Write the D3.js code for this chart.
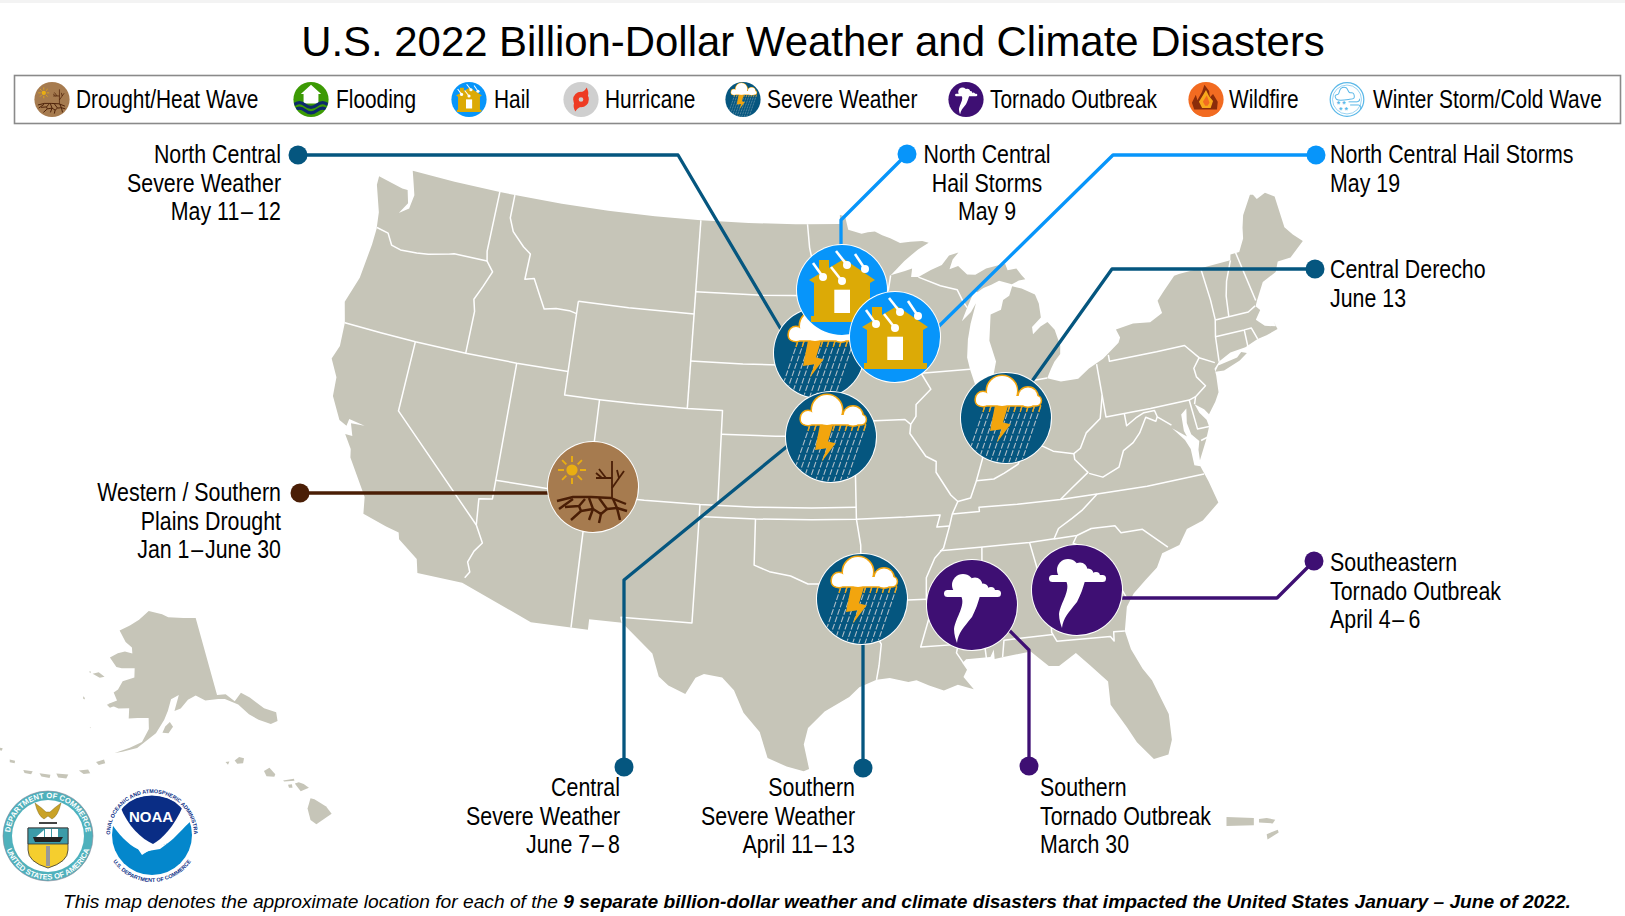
<!DOCTYPE html>
<html><head><meta charset="utf-8">
<script src="https://cdn.jsdelivr.net/npm/d3@7"></script>
<style>html,body{margin:0;padding:0;background:#fff}svg{display:block}
text{font-family:"Liberation Sans",Arial,sans-serif}</style>
</head><body><svg id="c" width="1625" height="916"></svg>
<script>
const titleText="U.S. 2022 Billion-Dollar Weather and Climate Disasters";
const categories=["Drought/Heat Wave","Flooding","Hail","Hurricane","Severe Weather","Tornado Outbreak","Wildfire","Winter Storm/Cold Wave"];
const categoryColors=["#A67B4F","#3C9A04","#0795FA","#CFCFCF","#05567F","#3E0F73","#F26B21","#FFFFFF"];
const eventTypes=["Severe Weather","Hail","Hail","Severe Weather","Drought/Heat Wave","Severe Weather","Severe Weather","Tornado Outbreak","Tornado Outbreak"];
const eventLabels=[
 ["North Central","Severe Weather","May 11\u200a–\u200912"],
 ["North Central","Hail Storms","May 9"],
 ["North Central Hail Storms","May 19"],
 ["Central Derecho","June 13"],
 ["Western / Southern","Plains Drought","Jan 1\u200a–\u200aJune 30"],
 ["Central","Severe Weather","June 7\u200a–\u20098"],
 ["Southern","Severe Weather","April 11\u200a–\u200913"],
 ["Southern","Tornado Outbreak","March 30"],
 ["Southeastern","Tornado Outbreak","April 4\u200a–\u20096"]];
const footerPlain="This map denotes the approximate location for each of the ";
const footerBold="9 separate billion-dollar weather and climate disasters that impacted the United States January – June of 2022.";

// geography, lon/lat
const landOutline=[[-122.76,49],[-120,49],[-117.03,49],[-116.05,49],[-113,49],[-110,49],[-107,49],[-104.05,49],[-101,49],[-98,49],[-97.23,49],[-95.15,49],[-95.15,49.38],[-94.82,49.32],[-94.64,48.74],[-93.8,48.55],[-93.4,48.6],[-92.95,48.62],[-92.5,48.45],[-92,48.3],[-91.4,48.07],[-90.75,48.1],[-90,48.1],[-89.6,48.0],[-90.3,47.75],[-91.2,47.3],[-92,46.78],[-92.1,46.72],[-91.2,46.87],[-90.75,46.95],[-90.85,46.6],[-90.4,46.57],[-89.6,46.83],[-88.9,47.0],[-88.4,47.38],[-87.8,47.47],[-88.2,47.2],[-88.45,46.8],[-87.9,46.9],[-87.4,46.5],[-86.9,46.45],[-86.2,46.67],[-85.3,46.75],[-85.0,46.77],[-84.9,46.48],[-84.35,46.5],[-84.1,46.2],[-83.9,46.0],[-84.3,45.98],[-84.75,45.87],[-85.5,46.08],[-86.0,45.95],[-86.5,45.85],[-86.9,45.7],[-87.05,45.8],[-87.6,45.1],[-88,44.55],[-87.4,44.9],[-87.05,45.25],[-87.5,44.4],[-87.75,43.75],[-87.9,43.0],[-87.8,42.5],[-87.6,41.85],[-87.4,41.63],[-87.0,41.68],[-86.55,42.0],[-86.25,42.7],[-86.5,43.6],[-86.25,44.7],[-85.6,44.85],[-85.4,45.25],[-85.0,45.4],[-84.75,45.78],[-84.2,45.63],[-83.45,45.3],[-83.3,44.9],[-83.3,44.3],[-83.9,43.95],[-83.9,43.65],[-83.4,43.92],[-82.95,44.07],[-82.6,43.7],[-82.42,43.0],[-82.5,42.65],[-82.9,42.37],[-83.15,42.1],[-83.45,41.72],[-82.7,41.5],[-81.7,41.5],[-81.0,41.85],[-80.1,42.15],[-79.05,42.7],[-78.9,42.9],[-79.05,43.27],[-78,43.37],[-77,43.28],[-76.5,43.45],[-76.2,43.55],[-76.3,44.1],[-75.8,44.45],[-75,44.97],[-74.7,45],[-73.35,45.01],[-71.5,45.01],[-71.4,45.25],[-70.85,45.25],[-70.4,45.75],[-70.25,46.2],[-70,46.7],[-69.23,47.46],[-69.05,47.42],[-68.9,47.2],[-68.3,47.35],[-67.8,47.07],[-67.8,45.7],[-67.45,45.3],[-67,44.9],[-68,44.4],[-68.8,44.4],[-69.1,44.0],[-70,43.75],[-70.6,43.1],[-70.8,42.85],[-70.6,42.65],[-71,42.3],[-70.6,41.95],[-70.0,41.8],[-70.05,42.05],[-69.95,41.67],[-70.65,41.55],[-71.2,41.5],[-71.4,41.45],[-72,41.3],[-72.9,41.25],[-73.65,41.0],[-74.0,40.75],[-74.0,40.45],[-74.1,39.75],[-74.4,39.4],[-74.9,38.95],[-75.1,39.2],[-75.55,39.5],[-75.4,39.1],[-75.1,38.75],[-75.05,38.45],[-75.4,37.9],[-75.95,37.15],[-75.9,37.6],[-75.75,37.95],[-76.1,38.3],[-76.2,38.8],[-76.05,39.4],[-76.4,39.2],[-76.45,38.5],[-76.35,38.25],[-77.05,38.72],[-76.5,38.12],[-76.3,37.7],[-76.3,37.0],[-76.0,36.9],[-75.75,36.2],[-75.5,35.25],[-76.5,34.65],[-77.4,34.45],[-77.95,33.85],[-78.9,33.65],[-79.3,33.1],[-79.95,32.7],[-80.7,32.2],[-81.15,31.7],[-81.45,30.7],[-81.3,29.9],[-80.9,29.0],[-80.55,28.45],[-80.05,26.9],[-80.12,25.8],[-80.4,25.2],[-81.1,25.12],[-81.75,25.95],[-82.1,26.65],[-82.7,27.7],[-82.65,28.7],[-83.4,29.5],[-84,30.1],[-84.9,29.65],[-85.4,29.7],[-86.2,30.4],[-87.5,30.3],[-88.0,30.25],[-88.0,30.65],[-88.2,30.35],[-89.4,30.35],[-89.6,30.2],[-89.4,29.9],[-89.6,29.6],[-89.15,29.05],[-89.9,29.3],[-90.6,29.1],[-91.3,29.35],[-91.9,29.6],[-92.3,29.55],[-93.2,29.75],[-93.85,29.7],[-94.7,29.4],[-95.2,29.0],[-96.4,28.4],[-97.2,27.7],[-97.4,27],[-97.15,25.95],[-97.4,25.85],[-98.2,26.05],[-99.1,26.4],[-99.5,27.5],[-100.3,28.3],[-100.8,29.25],[-101.4,29.77],[-102.3,29.88],[-102.7,29.7],[-103.15,28.98],[-104,29.3],[-104.5,29.65],[-104.9,30.6],[-106.5,31.75],[-106.53,31.78],[-108.2,31.78],[-108.2,31.33],[-111.07,31.33],[-114.8,32.5],[-117.12,32.53],[-117.3,33.1],[-118.4,33.75],[-118.5,34.03],[-119.2,34.15],[-120.5,34.45],[-120.65,35.15],[-121.9,36.6],[-122.0,36.95],[-122.5,37.5],[-122.1,37.5],[-122.35,38.0],[-121.6,38.05],[-122.5,38.15],[-122.55,37.85],[-123,38],[-123.7,38.9],[-123.8,39.7],[-124.35,40.4],[-124.1,41.0],[-124.2,42],[-124.55,42.85],[-124.1,44],[-123.95,45.5],[-123.95,46.2],[-124.1,46.9],[-124.7,48.0],[-124.72,48.38],[-123.1,48.15],[-122.75,48.15],[-122.5,47.6],[-122.9,47.1],[-122.35,47.4],[-122.25,48.0],[-122.5,48.5]];
const longIsland=[[-74.0,40.62],[-73.75,40.85],[-72.6,40.98],[-72.3,41.15],[-72.0,41.05],[-72.5,40.83],[-73.5,40.58]];
const stateBorders=[
[[-123.95,46.25],[-123.2,46.15],[-122.8,45.7],[-122.2,45.6],[-121.2,45.65],[-120.5,45.72],[-119.3,45.93],[-118.98,46.0],[-116.92,46.0]],
[[-117.03,49],[-117.04,46.4],[-116.92,46.0],[-116.46,45.6],[-116.85,44.9],[-117.22,44.3],[-117.03,43.8],[-117.03,42]],
[[-124.2,42],[-122,42],[-120,42],[-117.03,42],[-114.04,42],[-111.05,42]],
[[-120,42],[-120,39],[-114.63,35],[-114.15,34.3],[-114.5,33.9],[-114.72,33.4],[-114.52,33.0],[-114.72,32.72]],
[[-114.04,42],[-114.04,36.2],[-114.75,36.1],[-114.63,35]],
[[-114.04,37],[-111,37],[-109.05,37],[-106,37],[-103,37],[-100,37],[-97,37],[-94.62,37]],
[[-109.05,41],[-109.05,31.33]],
[[-103,37],[-103,36.5],[-103.04,32],[-106.62,32],[-106.53,31.78]],
[[-116.05,49],[-116.05,48],[-115.7,47.45],[-114.9,46.9],[-114.4,46.65],[-114.45,45.55],[-113.9,45.65],[-113.45,45.05],[-113,44.45],[-112.3,44.55],[-111.5,44.55],[-111.05,44.47]],
[[-111.05,45],[-111.05,41],[-109.05,41],[-107,41],[-104.05,41],[-102.05,41],[-102.05,37]],
[[-111.05,45],[-108,45],[-104.05,45]],
[[-104.05,49],[-104.05,41]],
[[-102.05,40],[-99,40],[-95.3,40]],
[[-104.05,45.94],[-100,45.94],[-96.56,45.94]],
[[-104.05,43],[-101,43],[-98.5,43],[-97.9,42.8],[-97.2,42.85],[-96.45,42.5]],
[[-97.23,49],[-97.1,48],[-96.8,47],[-96.56,45.94],[-96.85,45.6],[-96.45,45.3],[-96.45,43.5],[-94,43.5],[-91.22,43.5]],
[[-96.45,43.5],[-96.6,43.1],[-96.45,42.5],[-96.1,41.7],[-95.9,41.2],[-95.8,40.6],[-95.3,40],[-94.9,39.8],[-94.6,39.1],[-94.62,36.5]],
[[-95.77,40.58],[-91.73,40.6],[-91.42,40.38]],
[[-103,36.5],[-100,36.5],[-97,36.5],[-94.62,36.5],[-92,36.5],[-90.15,36.5],[-90.37,36],[-89.7,36]],
[[-94.62,36.5],[-94.43,35.4],[-94.48,33.64],[-94.04,33.55],[-94.04,33.02],[-91.17,33]],
[[-100,36.5],[-100,34.56],[-99.2,34.3],[-98.1,34.13],[-97.2,33.8],[-96.5,33.8],[-95.5,33.9],[-94.48,33.64]],
[[-94.04,33.02],[-94.04,31.99],[-93.55,31.2],[-93.7,30.3],[-93.85,29.7]],
[[-92.1,46.72],[-92.29,46.1],[-92.85,45.6],[-92.75,44.75],[-91.9,44.3],[-91.22,43.5],[-91.1,42.7],[-90.64,42.5],[-90.15,41.8],[-91.05,41.2],[-91.1,40.7],[-91.42,40.38],[-91.5,40.0],[-90.7,39],[-90.15,38.75],[-90.2,38.3],[-89.5,37.3],[-89.15,37],[-89.5,36.5],[-89.7,36],[-90.1,35.1],[-90.6,34.7],[-91.1,33.9],[-91.17,33],[-91.05,32.3],[-91.6,31],[-89.73,31],[-89.85,30.65],[-89.55,30.2]],
[[-88.1,35],[-88.4,32.3],[-88.47,31.9],[-88.4,30.3]],
[[-90.3,35],[-88.2,35],[-85.6,34.98],[-84.3,35]],
[[-85.6,34.98],[-85.18,32.87],[-84.95,32.3],[-85.05,31.1],[-85,31]],
[[-87.6,30.3],[-87.45,31],[-85,31],[-84.85,30.7],[-82.2,30.57],[-82.05,30.36],[-82,30.75],[-81.45,30.7]],
[[-81.1,32.1],[-81.5,33],[-82,33.5],[-82.7,34.4],[-83.35,34.7],[-83.1,35]],
[[-84.32,34.99],[-83.1,35],[-82.3,35.2],[-81.05,35.15],[-80.8,34.82],[-79.67,34.8],[-78.55,33.86]],
[[-84.3,35],[-84.0,35.4],[-83.2,35.75],[-82.6,36.03],[-81.7,36.59]],
[[-89.5,36.5],[-88.05,36.5],[-88.05,36.68],[-86,36.63],[-83.68,36.6],[-81.7,36.59],[-79,36.54],[-75.9,36.55]],
[[-89.15,37],[-88.45,37.1],[-88.05,37.8],[-87.1,37.8],[-86.5,38],[-85.7,38.3],[-85.4,38.7],[-84.82,39.1],[-84.3,38.95],[-83.7,38.65],[-82.6,38.42],[-82.2,38.6],[-81.75,39.2],[-80.85,39.7],[-80.52,40.64]],
[[-83.68,36.6],[-83,37],[-82.0,37.55],[-82.6,38.17],[-82.6,38.42]],
[[-81.95,37.5],[-81.25,37.25],[-80.3,37.55],[-79.9,38.2],[-79.3,38.45],[-78.85,38.8],[-78.35,39.4],[-77.85,39.15],[-77.72,39.32]],
[[-79.48,39.72],[-79.48,39.2],[-78.9,39.45],[-78.4,39.6],[-77.8,39.6],[-77.72,39.32],[-77.05,38.85]],
[[-80.52,41.98],[-80.52,39.72],[-78,39.72],[-75.79,39.72],[-75.7,38.46],[-75.05,38.45]],
[[-79.76,42.27],[-79.76,42],[-77,42],[-75.35,42],[-74.7,41.36],[-75.13,40.98],[-75.1,40.6],[-74.72,40.15],[-75.4,39.8],[-75.55,39.5]],
[[-75.79,39.72],[-75.4,39.8]],
[[-74.7,41.36],[-73.9,41]],
[[-75.65,37.95],[-75.25,38.03]],
[[-73.65,41],[-73.5,42.05],[-73.27,42.75],[-73.25,43.6],[-73.35,45.01]],
[[-73.5,42.05],[-71.8,42.02],[-71.38,42.02],[-71.2,41.5]],
[[-71.8,42.02],[-71.85,41.32]],
[[-73.27,42.74],[-71.3,42.7],[-70.82,42.87]],
[[-72.46,42.73],[-72.3,43.6],[-72.05,44.2],[-71.5,45.01]],
[[-70.7,43.08],[-71.08,45.3]],
[[-90.4,46.57],[-89.1,46.13],[-88.1,45.9],[-87.8,45.35],[-87.6,45.1]],
[[-90.64,42.5],[-87.8,42.5]],
[[-86.8,41.76],[-84.8,41.76],[-84.8,41.7],[-83.45,41.73]],
[[-84.8,41.7],[-84.82,39.1]],
[[-87.53,41.7],[-87.53,39.35],[-87.6,38.7],[-88.05,37.8]]
];
const alaskaOutline=[[-141,69.65],[-145,70],[-150,70.4],[-152,70.85],[-156.6,71.35],[-160,70.3],[-163,69.6],[-166.2,68.9],[-164,67.6],[-162,67],[-161.8,66.3],[-164,66.5],[-166,66.2],[-168.1,65.6],[-166,64.6],[-164.5,64.5],[-161,64.6],[-161,63.5],[-164,63],[-165,62],[-166,61.6],[-165,60.7],[-167,60.2],[-164.5,59.8],[-162,59.9],[-162,58.7],[-160,58.8],[-157.5,58.8],[-157.5,57.5],[-159,56],[-161.5,55.3],[-164.5,54.6],[-163,54.8],[-160,55.3],[-156,57],[-154,58.5],[-153,59.5],[-152,60.8],[-150,61.2],[-151.5,59.4],[-150,59.6],[-148,60.5],[-146,60.8],[-144,60],[-141,59.8],[-139.5,59.6],[-137,58.5],[-135.5,57],[-134,56],[-132,55],[-130.5,55],[-130,56],[-132,57],[-134,58.8],[-135.5,59.7],[-137.5,59],[-139,60.1],[-141,60.3]];
const alaskaIslands=[
[[-154.6,57],[-153.3,56.9],[-152.2,57.6],[-152.8,58.2],[-153.9,57.7]],
[[-172,63.4],[-170.5,63.7],[-168.8,63.3],[-170,63.1]],
[[-167.3,60.1],[-166,60.4],[-165.6,60],[-166.5,59.8]],
[[-173.2,60.6],[-172.8,60.5],[-172.6,60.3],[-173,60.3]],
[[-170.4,57.2],[-170.1,57.2],[-170.1,57.1]],
[[-168,53.3],[-166.5,53.7],[-166.2,53.3],[-167.4,53]],
[[-171,52],[-169.3,52.3],[-168.8,51.9],[-170,51.7]],
[[-175,51.1],[-172.8,51.3],[-173,50.8],[-174.5,50.7]],
[[-178,50.6],[-176,50.8],[-176,50.4],[-177.5,50.3]],
[[-181,50.4],[-179.3,50.6],[-179.4,50.2],[-180.6,50.1]],
[[-184,51],[-183,51.1],[-182.9,50.8],[-183.8,50.7]],
[[-187,51.8],[-186,51.9],[-186,51.6],[-186.8,51.5]],
[[-173,63.6],[-172.5,63.6],[-172.7,63.4]]];
const hawaiiIslands=[
[[-159.78,22.05],[-159.55,22.22],[-159.3,22.15],[-159.35,21.92],[-159.65,21.9]],
[[-160.25,21.98],[-160.05,22],[-160.12,21.85]],
[[-158.28,21.55],[-158,21.7],[-157.7,21.4],[-157.75,21.28],[-158.15,21.3]],
[[-157.3,21.1],[-156.75,21.18],[-156.72,21.08],[-157.25,21.05]],
[[-156.7,20.95],[-156.5,21.02],[-156.25,20.93],[-155.98,20.75],[-156.4,20.58],[-156.6,20.82]],
[[-157.05,20.9],[-156.85,20.92],[-156.82,20.75],[-157,20.75]],
[[-155.9,20.25],[-155.7,20.2],[-155.1,19.85],[-154.82,19.5],[-155.6,19.0],[-155.9,19.2],[-156.05,19.75]]];
const caribbeanIslands=[
[[-67.2,18.55],[-65.6,18.5],[-65.6,18.1],[-67.2,18.05]],
[[-65.3,18.45],[-64.85,18.5],[-64.35,18.4],[-64.5,18.2],[-65.3,18.25]],
[[-64.85,17.6],[-64.2,17.85],[-64.15,17.7],[-64.8,17.3]]];

// icon geometry, in a frame where the disc has radius 45
const cloudPuffs=[[-4,-27,15],[22,-21,9.5],[-23,-19,7]];
const tornadoPuffs=[[-9,-20,11],[3,-20,7.5],[11,-16,5.5],[19,-14,4]];
const boltShape=[[-11,-12.7],[2.3,-12.7],[-3,4.6],[4.7,6.3],[-9.3,24.7],[-4.3,11.3],[-16,13]];
const houseShape=[[2,-31],[-13,-22],[-13,-30],[-23,-30],[-23,-16],[-33,-10],[-28,-7],[-28,26],[-31,26],[-31,32],[32,32],[32,26],[28,26],[28,-7],[33,-10]];
const hailStreaks=[[[-29,-27],[-19,-13]],[[-11,-23],[0,-9]],[[-6,-39],[5,-25]],[[13,-36],[23,-21]]];
const crackLines=[[[-36,14],[-20,10],[-2,10],[18,11],[33,17]],[[-34,22],[-20,12]],[[-28,20],[-14,19],[-8,12]],[[-22,33],[-12,24],[-14,19]],[[-12,24],[0,22],[-4,11]],[[0,22],[-4,33]],[[0,22],[8,27],[14,22],[6,11]],[[14,22],[24,21],[20,12]],[[24,21],[34,24]],[[8,27],[6,36]],[[24,21],[27,33]]];
const treeBranches=[[[19,-26],[19,11]],[[19,-9],[3,-9]],[[13,-9],[6,-18]],[[9,-9],[3,-14]],[[19,1],[31,-16]],[[26,-9],[24,-17]]];
const floodHouse=[[0,-38],[-26,-14],[-19,-14],[-19,10],[19,10],[19,-14],[26,-14]];
const flameOuter=[[-30,26],[-36,8],[-26,-12],[-22,2],[-10,-20],[-4,-38],[8,-22],[10,-6],[18,-14],[30,6],[28,26]];
const flameMid=[[-10,22],[-18,6],[-6,-14],[0,-24],[8,-8],[18,4],[12,22]];
const flameCore=[[-2,16],[-8,6],[-2,-4],[2,-10],[6,0],[9,8],[4,16]];

const svg=d3.select("#c");
const line=d3.line();
const smooth=d3.line().curve(d3.curveCatmullRomClosed.alpha(.5));
const colorOf=d3.scaleOrdinal(categories,categoryColors);
const DARK="#4A1E06";

// page
svg.append("rect").attr("width",1625).attr("height",3).attr("fill","#f3f3f3");
svg.append("text").attr("x",813).attr("y",56).attr("text-anchor","middle").attr("font-size",41.9).attr("fill","#000").text(titleText);

// map
const mainProj=d3.geoConicEqualArea().parallels([29.5,45.5]).rotate([97.2,0]).center([0,37.5]).scale(1350).translate([808,496]);
const akProj=d3.geoConicEqualArea().parallels([55,65]).rotate([159,0]).center([0,63]).scale(490).translate([142,682]);
const hiProj=d3.geoMercator().center([-157,20.5]).scale(1120).translate([289,793]);
const prProj=d3.geoMercator().center([-66,18]).scale(980).translate([1247,827]);
const LAND="#C6C5B8";
const map=svg.append("g");
function fillShapes(list,proj,cls){
  map.append("g").selectAll("path").data(list).join("path").attr("class",cls)
    .attr("d",d=>line(d.map(proj))+"Z").attr("fill",LAND);
}
fillShapes([landOutline,longIsland],mainProj,"land");
map.append("g").selectAll("path").data(stateBorders).join("path").attr("d",d=>line(d.map(mainProj)))
  .attr("fill","none").attr("stroke","#fff").attr("stroke-width",1.5).attr("stroke-linejoin","round");
fillShapes([alaskaOutline,...alaskaIslands],akProj,"ak");
fillShapes(hawaiiIslands,hiProj,"hi");
fillShapes(caribbeanIslands,prProj,"pr");

// icons
let clipN=0;
function disc(g,fill){
  const id="cl"+(clipN++);
  g.append("clipPath").attr("id",id).append("circle").attr("r",44.5);
  g.append("circle").attr("r",45).attr("fill",fill);
  return g.append("g").attr("clip-path",`url(#${id})`);
}
const rainOffsets=d3.range(-24,38,6.2);
function iconSevere(g){
  const c=disc(g,"#05567F");
  c.selectAll(".r").data(rainOffsets).join("line").attr("class","r")
    .attr("x1",d=>d+3).attr("y1",-12).attr("x2",d=>d-17).attr("y2",46)
    .attr("stroke","#AEBDC7").attr("stroke-width",1.1).attr("stroke-dasharray","6 1.8");
  c.selectAll(".o").data(rainOffsets).join("line").attr("class","o")
    .attr("x1",d=>d+3).attr("y1",-13).attr("x2",d=>d+1).attr("y2",-6)
    .attr("stroke","#F2A50E").attr("stroke-width",1.3);
  c.append("path").attr("d",line(boltShape)+"Z").attr("fill","#F2A50E");
  const outline=c.append("g").attr("fill","#F2A50E").attr("stroke","#F2A50E").attr("stroke-width",3);
  const white=c.append("g").attr("fill","#fff");
  [outline,white].forEach(l=>{
    l.selectAll("circle").data(cloudPuffs).join("circle").attr("cx",d=>d[0]).attr("cy",d=>d[1]).attr("r",d=>d[2]);
    l.append("rect").attr("x",-30).attr("y",-22).attr("width",64.7).attr("height",9.3).attr("rx",4.6);
  });
}
function iconHail(g){
  const c=disc(g,"#0795FA");
  c.append("path").attr("d",line(houseShape)+"Z").attr("fill","#DCAA06");
  c.append("rect").attr("x",-7.7).attr("y",-0.3).attr("width",15.7).attr("height",23.3).attr("fill","#fff");
  c.selectAll(".s").data(hailStreaks).join("line").attr("class","s")
    .attr("x1",d=>d[0][0]).attr("y1",d=>d[0][1]).attr("x2",d=>d[1][0]).attr("y2",d=>d[1][1])
    .attr("stroke","#fff").attr("stroke-width",2.6);
  c.selectAll(".b").data(hailStreaks).join("circle").attr("class","b")
    .attr("cx",d=>d[1][0]).attr("cy",d=>d[1][1]).attr("r",4).attr("fill","#fff");
}
function iconTornado(g){
  const c=disc(g,"#3E0F73");
  c.selectAll("circle.p").data(tornadoPuffs).join("circle").attr("class","p").attr("cx",d=>d[0]).attr("cy",d=>d[1]).attr("r",d=>d[2]).attr("fill","#fff");
  c.append("rect").attr("x",-28).attr("y",-15).attr("width",57).attr("height",7).attr("rx",3.5).attr("fill","#fff");
  c.append("path").attr("d","M-11 -9 C-6 0 -16 12 -18 24 C-18 30 -16 35 -15 38 C-14 28 -8 22 0 12 C4 4 6 -2 8 -9 Z").attr("fill","#fff");
}
function iconDrought(g){
  const c=disc(g,"#A67B4F");
  const sun=c.append("g").attr("transform","translate(-21,-17)");
  sun.append("circle").attr("r",5.6).attr("fill","#E9AE12");
  sun.selectAll("line").data(d3.range(0,360,45)).join("line")
    .attr("x1",d=>8*Math.cos(d*Math.PI/180)).attr("y1",d=>8*Math.sin(d*Math.PI/180))
    .attr("x2",d=>14*Math.cos(d*Math.PI/180)).attr("y2",d=>14*Math.sin(d*Math.PI/180))
    .attr("stroke","#E9AE12").attr("stroke-width",1.9);
  c.selectAll(".t").data(treeBranches).join("path").attr("class","t").attr("d",line)
    .attr("fill","none").attr("stroke",DARK).attr("stroke-width",1.8);
  c.selectAll(".k").data(crackLines).join("path").attr("class","k").attr("d",line)
    .attr("fill","none").attr("stroke",DARK).attr("stroke-width",2.4).attr("stroke-linejoin","round");
}
function iconFlood(g){
  const c=disc(g,"#3C9A04");
  c.append("path").attr("d",line(floodHouse)+"Z").attr("fill","#fff");
  [14,28].forEach(y=>{
    c.append("path").attr("d",`M-44 ${y} Q-30 ${y-12} -15 ${y} T15 ${y} T44 ${y}`).attr("fill","none").attr("stroke","#0C2A6B").attr("stroke-width",8);
  });
}
function iconHurricane(g){
  const c=disc(g,"#CFCFCF");
  c.append("circle").attr("r",13).attr("fill","none").attr("stroke","#EE3B23").attr("stroke-width",14);
  c.append("path").attr("d","M2 -19 C8 -22 12 -26 14 -31 C20 -22 20 -12 16 -6 Z").attr("fill","#EE3B23");
  c.append("path").attr("d","M-2 19 C-8 22 -12 26 -14 31 C-20 22 -20 12 -16 6 Z").attr("fill","#EE3B23");
}
function iconWildfire(g){
  const c=disc(g,"#F26B21");
  c.append("path").attr("d",line(flameOuter)+"Z").attr("fill","#8A2C0A");
  c.append("path").attr("d",line(flameMid)+"Z").attr("fill","#F8A81C");
  c.append("path").attr("d",line(flameCore)+"Z").attr("fill","#F26B21");
  c.append("rect").attr("x",-45).attr("y",26).attr("width",90).attr("height",20).attr("fill","#F26B21");
}
function iconWinter(g){
  const S="#5BB8E8";
  g.append("circle").attr("r",43).attr("fill","#fff").attr("stroke",S).attr("stroke-width",3.2);
  g.append("circle").attr("r",37).attr("fill","none").attr("stroke",S).attr("stroke-width",1.6);
  g.append("path").attr("d",smooth([[-26,0],[-30,-10],[-22,-14],[-16,-28],[-2,-30],[6,-18],[16,-16],[18,-4],[4,0]])).attr("fill","none").attr("stroke",S).attr("stroke-width",2.6);
  [[4,6,26],[8,14,30]].forEach(v=>{
    g.append("path").attr("d",`M${v[0]} ${v[1]} H${v[2]}`).attr("stroke",S).attr("stroke-width",2.6);
  });
  g.append("path").attr("d","M26 6 q8 -2 6 -8 M30 14 q8 2 4 10").attr("fill","none").attr("stroke",S).attr("stroke-width",2.6);
  [[-22,12],[-8,12],[-16,26],[-2,26]].forEach(p=>{
    g.append("text").attr("x",p[0]).attr("y",p[1]+8).attr("text-anchor","middle").attr("font-size",22).attr("font-weight","bold").attr("fill",S).text("*");
  });
}
const iconOf={"Severe Weather":iconSevere,"Hail":iconHail,"Tornado Outbreak":iconTornado,"Drought/Heat Wave":iconDrought,"Flooding":iconFlood,"Hurricane":iconHurricane,"Wildfire":iconWildfire,"Winter Storm/Cold Wave":iconWinter};

// legend
const legendIconX=[52,311,469,581,743,966,1206,1347];
const legendTextX=[76,336,494,605,767,990,1229,1373];
svg.append("rect").attr("x",14.5).attr("y",75.5).attr("width",1606).attr("height",48).attr("fill","#fff").attr("stroke","#8a8a8a").attr("stroke-width",1.6);
categories.forEach((name,i)=>{
  const g=svg.append("g").attr("transform",`translate(${legendIconX[i]},99.5) scale(${17.6/45})`);
  iconOf[name](g);
  svg.append("text").attr("transform",`translate(${legendTextX[i]},108) scale(.835,1)`).attr("font-size",25).attr("fill","#000").text(name);
});

// leaders: dot first, then bends, then icon end
const leaderPaths=[
 [[298,155],[678,155],[782,331]],
 [[907,154],[841,220],[841,250]],
 [[1316,155],[1113,155],[935,330]],
 [[1315,269],[1112,269],[1030,384]],
 [[300,493],[560,493]],
 [[624,767],[624,580],[790,444]],
 [[863,768],[863,640]],
 [[1029,766],[1029,650],[1005,626]],
 [[1314,561],[1277,598],[1120,598]]];
const iconCentres=[[819,353],[842,290],[895,337],[1006,418],[593,487],[831,437],[862,599],[972,605],[1077,590]];
const drawOrder=[0,1,2,3,4,5,6,7,8];
const lineColor=d=>eventTypes[d]==="Hail"?"#0795FA":eventTypes[d]==="Drought/Heat Wave"?DARK:colorOf(eventTypes[d]);
const leaders=svg.append("g");
drawOrder.forEach(i=>{
  leaders.append("path").attr("d",line(leaderPaths[i])).attr("fill","none").attr("stroke",lineColor(i)).attr("stroke-width",3.3).attr("stroke-linejoin","round");
  leaders.append("circle").attr("cx",leaderPaths[i][0][0]).attr("cy",leaderPaths[i][0][1]).attr("r",9.5).attr("fill",lineColor(i));
});
drawOrder.forEach(i=>{
  const g=svg.append("g").attr("transform",`translate(${iconCentres[i]})`);
  g.append("circle").attr("r",46).attr("fill","#fff");
  iconOf[eventTypes[i]](g);
});

// labels
const labelX=[281,987,1330,1330,281,620,855,1040,1330];
const labelY=[163,163,163,278,501,796,796,796,571];
const labelAnchor=["end","middle","start","start","end","end","end","start","start"];
eventLabels.forEach((lines,i)=>{
  const t=svg.append("text").attr("transform",`translate(${labelX[i]},${labelY[i]}) scale(.855,1)`).attr("text-anchor",labelAnchor[i]).attr("font-size",25).attr("fill","#000");
  lines.forEach((s,j)=>t.append("tspan").attr("x",0).attr("y",j*28.7).text(s));
});

// footer
const ft=svg.append("text").attr("x",817).attr("y",908).attr("text-anchor","middle").attr("font-size",19.2).attr("font-style","italic").attr("fill","#000");
ft.append("tspan").text(footerPlain);
ft.append("tspan").attr("font-weight","bold").text(footerBold);

// seals
function ringText(g,id,r,sweepTop,txt,size,fill){
  const d=sweepTop?`M${-r} 0 A${r} ${r} 0 0 1 ${r} 0`:`M${-r} 0 A${r} ${r} 0 0 0 ${r} 0`;
  g.append("path").attr("id",id).attr("d",d).attr("fill","none");
  g.append("text").attr("font-size",size).attr("fill",fill).attr("text-anchor","middle").attr("font-weight","bold")
    .append("textPath").attr("href","#"+id).attr("startOffset","50%").text(txt);
}
const doc=svg.append("g").attr("transform","translate(48,836)");
doc.append("circle").attr("r",45).attr("fill","#4FB1BC").attr("stroke","#889").attr("stroke-width",.6);
doc.append("circle").attr("r",36).attr("fill","#fff");
ringText(doc,"docTop",38,true,"DEPARTMENT OF COMMERCE",7.6,"#fff");
ringText(doc,"docBot",43.5,false,"UNITED STATES OF AMERICA",7.6,"#fff");
doc.append("path").attr("d","M-20 -8 H20 V14 Q20 26 0 32 Q-20 26 -20 14 Z").attr("fill","#F5CE2E").attr("stroke","#333").attr("stroke-width",.8);
doc.append("path").attr("d","M-20 -8 H20 V8 H-20 Z").attr("fill","#3C9BA8").attr("stroke","#333").attr("stroke-width",.8);
doc.append("path").attr("d","M-13 6 L12 6 L15 1 L-15 1 Z").attr("fill","#222");
doc.append("path").attr("d","M-12 1 L-4 -6 V1 Z M-3 1 V-7 H3 V1 Z M4 1 V-7 H10 V1 Z").attr("fill","#fff");
doc.append("rect").attr("x",-2).attr("y",10).attr("width",4).attr("height",20).attr("fill","#999");
doc.append("path").attr("d","M-13 -33 Q-10 -20 -4 -17 L0 -20 L4 -17 Q10 -20 13 -33 Q6 -28 2 -24 L-2 -24 Q-6 -28 -13 -33 Z").attr("fill","#C9A227").attr("stroke","#6e5a12").attr("stroke-width",.4);
doc.append("rect").attr("x",-9).attr("y",-14).attr("width",18).attr("height",2).attr("fill","#444");

const noaa=svg.append("g").attr("transform","translate(152,835)");
noaa.append("clipPath").attr("id","noaaDisc").append("circle").attr("r",40);
const nd=noaa.append("g").attr("clip-path","url(#noaaDisc)");
nd.append("circle").attr("r",40).attr("fill","#fff");
nd.append("path").attr("d","M-32 -29 Q0 -50 31 -29 C22 -8 10 4 1 9 C-10 4 -24 -8 -32 -29 Z").attr("fill","#0A2D85");
nd.append("path").attr("d","M-41 -12 C-30 4 -20 12 -12 15 L-8 18 L16 8 C24 2 32 -8 41 -16 L41 41 L-41 41 Z").attr("fill","#0487CC");
nd.append("path").attr("d","M-14 14 C-4 12 8 12 16 8 L8 14 L-4 16 L-10 20 Z").attr("fill","#fff");
noaa.append("text").attr("x",-1).attr("y",-13).attr("text-anchor","middle").attr("font-size",15).attr("font-weight","bold").attr("fill","#fff").text("NOAA");
ringText(noaa,"noaaTop",42,true,"NATIONAL OCEANIC AND ATMOSPHERIC ADMINISTRATION",5.4,"#0A2D85");
ringText(noaa,"noaaBot",47,false,"U.S. DEPARTMENT OF COMMERCE",5.4,"#0A2D85");
</script></body></html>
